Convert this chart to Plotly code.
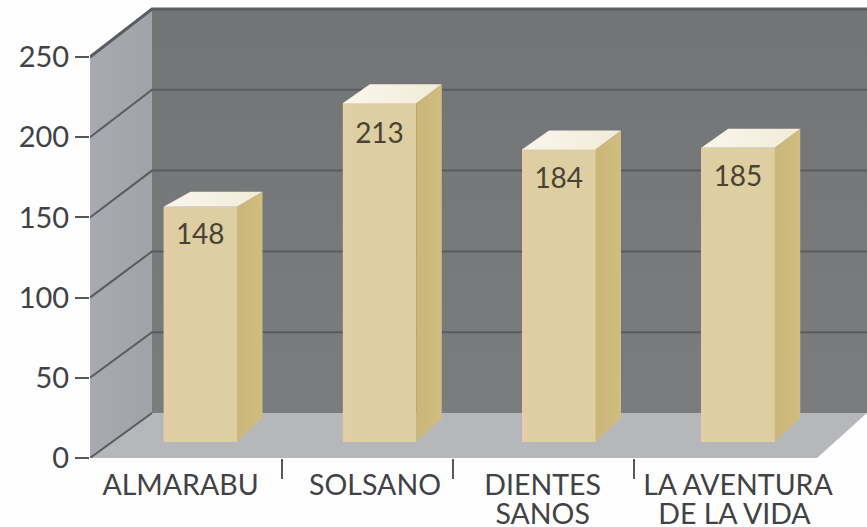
import plotly.graph_objects as go

# Data
categories = ["ALMARABU", "SOLSANO", "DIENTES", "LA AVENTURA"]
categories_line2 = ["SANOS", "DE LA VIDA"]
values = [148, 213, 184, 185]
y_ticks = [0, 50, 100, 150, 200, 250]
label_offsets = [-0.11, -0.025, -0.09, 0.0]
line2_positions = [1.91, 2.98]
divider_positions = [0.458, 1.412, 2.422]

# Layout constants (pixels of the 867x527 page)
W, H = 867, 527
PLOT_L, PLOT_B = 90, 458
PX_X = 179.25          # px per category
BAR0_PX = 200.25       # px of first bar centre
PX_Y = 1.604           # px per unit on the front axis
PX_Y_BAR = 1.59        # px per unit for the bars, which stand on the floor
BAR_BASE_PX = 442

xmin = (PLOT_L - BAR0_PX) / PX_X
xmax = (W - BAR0_PX) / PX_X
ymax = PLOT_B / PX_Y
y2min = -(PLOT_B - BAR_BASE_PX) / PX_Y_BAR
y2max = BAR_BASE_PX / PX_Y_BAR

WALL_DX = 62 / PX_X
FLOOR_END = (817 - BAR0_PX) / PX_X


def wall_rise(v):
    return (45 + v * 3 / 250) / PX_Y


BAR_W = 73.5 / PX_X
BAR_DX = 25.5 / PX_X
BAR_TOP_RISE = [15 / PX_Y_BAR, 19 / PX_Y_BAR, 19 / PX_Y_BAR, 19 / PX_Y_BAR]
BAR_FOOT_RISE = 24 / PX_Y_BAR
LABEL_DROP = [30 / PX_Y_BAR, 33 / PX_Y_BAR, 32 / PX_Y_BAR, 31 / PX_Y_BAR]

TXT = "#414245"
GRID = "#5a5c5f"
FONT = "Lato, 'Open Sans', sans-serif"

fig = go.Figure()


def poly(xs, ys, color=None, yaxis="y", gradient=None):
    kw = dict(fillgradient=gradient) if gradient else dict(fillcolor=color)
    fig.add_trace(go.Scatter(x=xs + xs[:1], y=ys + ys[:1], mode="lines", fill="toself",
                             line=dict(width=0), hoverinfo="skip", showlegend=False,
                             xaxis="x", yaxis=yaxis, **kw))


xb = xmin + WALL_DX
top = y_ticks[-1]
# back wall
poly([xb, xmax, xmax, xb], [wall_rise(0), wall_rise(0), wall_rise(top) + top, wall_rise(top) + top],
     gradient=dict(type="vertical", colorscale=[[0, "#7a7c7e"], [1, "#727476"]]))
# left wall
poly([xmin, xb, xb, xmin], [0, wall_rise(0), wall_rise(top) + top, top],
     gradient=dict(type="horizontal", colorscale=[[0, "#a7aaae"], [1, "#a0a3a7"]]))
# floor
poly([xmin, xb, xmax, FLOOR_END], [0, wall_rise(0), wall_rise(0), 0], color="#b5b7bb")

# grid lines: along the left wall and across the back wall
for v in y_ticks:
    rise = wall_rise(v)
    fig.add_trace(go.Scatter(
        x=[xmin, xb, xmax] if v > 0 else [xmin, xb],
        y=[v, v + rise, v + rise] if v > 0 else [v, v + rise],
        mode="lines", line=dict(color=GRID, width=3 if v == top else 2),
        hoverinfo="skip", showlegend=False, xaxis="x", yaxis="y"))

positions = list(range(len(values)))

# bars: front faces
fig.add_trace(go.Bar(x=positions, y=values, width=BAR_W, marker=dict(color="#decfa3", line=dict(width=0)),
                     xaxis="x", yaxis="y2", showlegend=False, hoverinfo="skip"))
# bars: soft sheen on the front, side and top faces
for p, v, r in zip(positions, values, BAR_TOP_RISE):
    left, right = p - BAR_W / 2, p + BAR_W / 2
    sheen = left + BAR_W * 0.22
    poly([left, sheen, sheen, left], [0, 0, v, v],
         gradient=dict(type="horizontal", colorscale=[[0, "rgba(230,203,170,0.8)"], [1, "rgba(222,207,163,0)"]]),
         yaxis="y2")
    poly([right, right + BAR_DX, right + BAR_DX, right], [0, BAR_FOOT_RISE, v + r, v],
         gradient=dict(type="horizontal", colorscale=[[0, "#cbb679"], [1, "#d2bd80"]]), yaxis="y2")
    poly([left, left + BAR_DX * 1.06, right + BAR_DX, right], [v, v + r, v + r, v],
         gradient=dict(type="horizontal", colorscale=[[0, "#f9f6ec"], [1, "#f2ebd8"]]), yaxis="y2")

# value labels
fig.add_trace(go.Scatter(x=positions, y=[v - d for v, d in zip(values, LABEL_DROP)], mode="text",
                         text=[str(v) for v in values], textposition="middle center",
                         textfont=dict(family=FONT, size=28, color="#4a4235"),
                         xaxis="x", yaxis="y2", showlegend=False, hoverinfo="skip"))

# carrier of the second row of category labels
fig.add_trace(go.Scatter(x=line2_positions, y=[0, 0], mode="none", xaxis="x2", yaxis="y",
                         showlegend=False, hoverinfo="skip"))

fig.update_layout(
    width=W, height=H, autosize=False,
    margin=dict(l=PLOT_L, r=0, t=0, b=H - PLOT_B, pad=0, autoexpand=False),
    paper_bgcolor="#fefefe", plot_bgcolor="rgba(0,0,0,0)",
    showlegend=False,
    xaxis=dict(range=[xmin, xmax], showgrid=False, zeroline=False, showline=False,
               automargin=False,
               tickmode="array", tickvals=[p + o for p, o in zip(positions, label_offsets)],
               ticktext=categories, ticks="", ticklabelstandoff=7,
               tickfont=dict(family=FONT, size=28.5, color=TXT),
               minor=dict(tickmode="array", tickvals=divider_positions, ticks="outside",
                          ticklen=20, tickwidth=2, tickcolor="#55575a", showgrid=False)),
    xaxis2=dict(range=[xmin, xmax], overlaying="x", side="bottom", anchor="y",
                automargin=False,
                showgrid=False, zeroline=False, showline=False,
                tickmode="array", tickvals=line2_positions, ticktext=categories_line2,
                ticks="", ticklabelstandoff=36,
                tickfont=dict(family=FONT, size=28.5, color=TXT)),
    yaxis=dict(range=[0, ymax], showgrid=False, zeroline=False, showline=False,
               automargin=False,
               tickmode="array", tickvals=y_ticks, ticks="outside", ticklen=14, tickwidth=2,
               tickcolor="#55575a", ticklabelstandoff=0,
               tickfont=dict(family=FONT, size=29, color=TXT)),
    yaxis2=dict(range=[y2min, y2max], overlaying="y", side="left", visible=False, automargin=False),
    bargap=0,
)

fig.write_html("out.html", config=dict(displayModeBar=False),
               post_script="document.body.style.margin='0';document.body.style.overflow='hidden';")
